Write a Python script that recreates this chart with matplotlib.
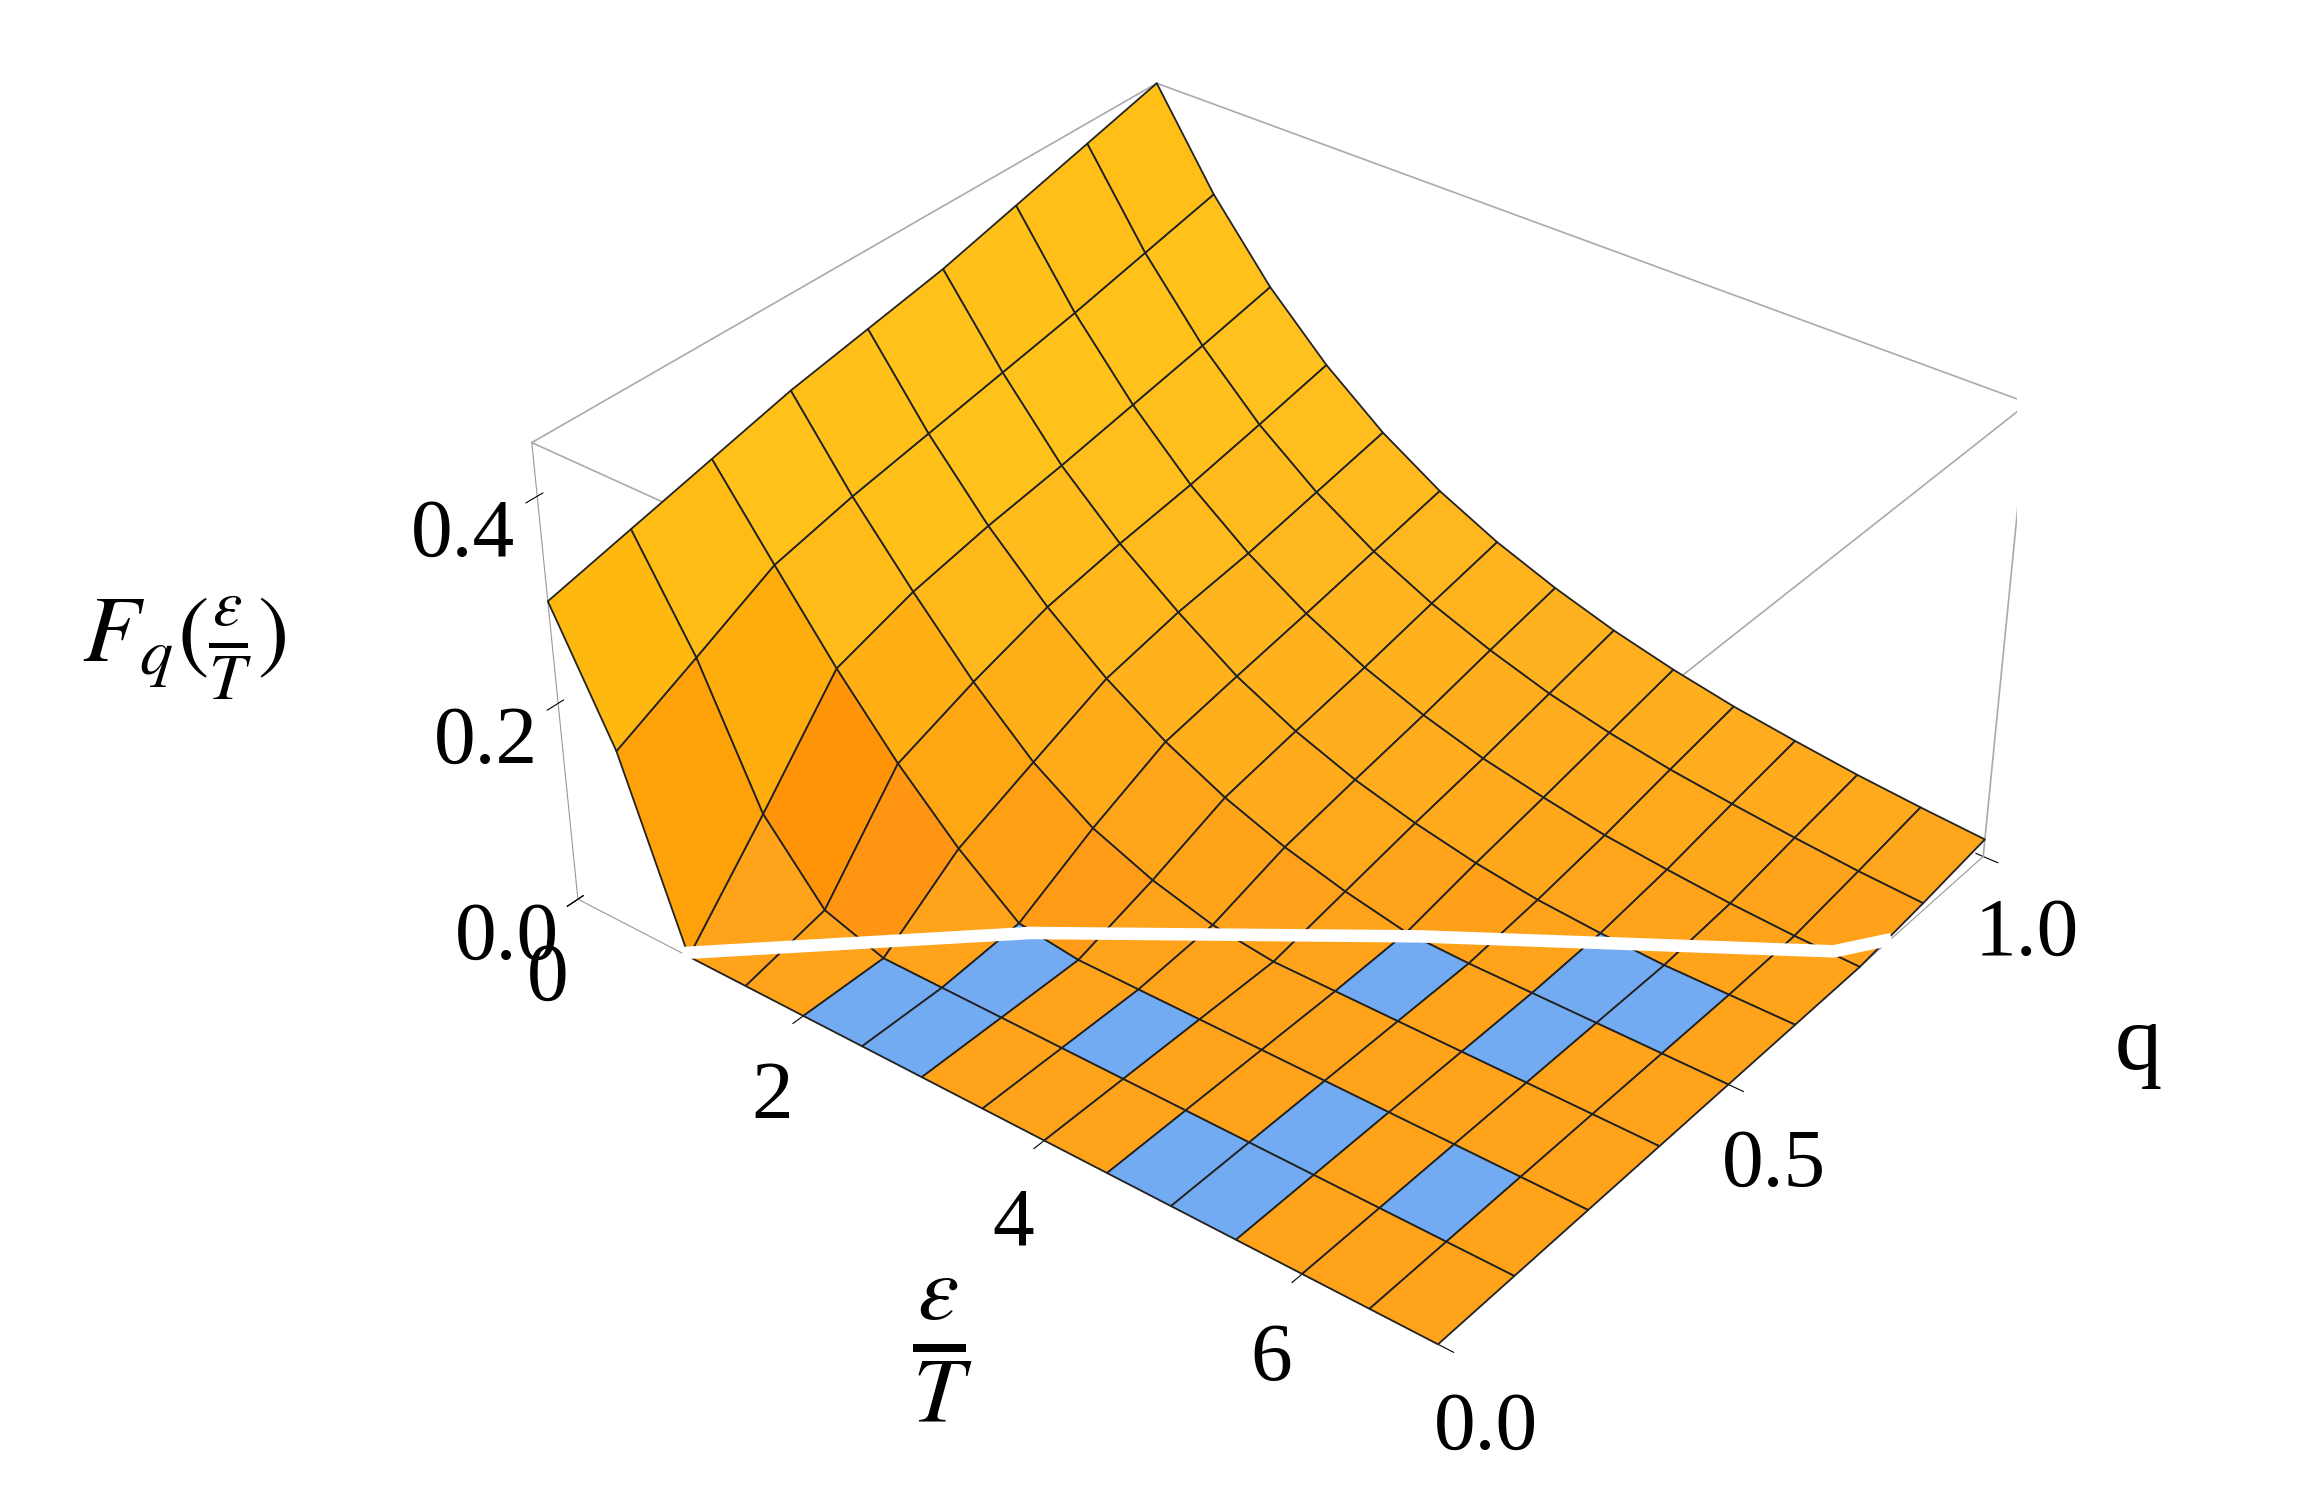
import numpy as np
import matplotlib.pyplot as plt
from matplotlib.colors import LightSource

plt.rcParams['font.family'] = ['Liberation Serif', 'DejaVu Serif']
plt.rcParams['mathtext.fontset'] = 'stix'

# grid
eps = [0, 0.5, 1, 1.5, 2, 2.5, 3, 3.5, 4, 4.5, 5, 5.5, 6, 6.5, 7]
q = [0, 0.125, 0.25, 0.375, 0.5, 0.625, 0.75, 0.875, 1.0]
F = [
    [.30, .18, 0, 0, 0, 0, 0, 0, 0, 0, 0, 0, 0, 0, 0],
    [.32, .22, .09, .02, 0, 0, 0, 0, 0, 0, 0, 0, 0, 0, 0],
    [.34, .261, .184, .115, .056, .008, 0, 0, 0, 0, 0, 0, 0, 0, 0],
    [.36, .28, .21, .145, .09, .05, .025, .008, 0, 0, 0, 0, 0, 0, 0],
    [.375, .295, .227, .170, .123, .085, .055, .032, .015, .002, 0, 0, 0, 0, 0],
    [.39, .31, .24, .185, .14, .10, .07, .047, .030, .017, .008, .003, 0, 0, 0],
    [.41, .325, .255, .197, .151, .114, .084, .061, .043, .030, .019, .012, .006, .002, 0],
    [.43, .342, .27, .212, .166, .129, .10, .077, .058, .044, .033, .025, .018, .012, .008],
    [.45, .359, .286, .228, .181, .144, .115, .092, .073, .058, .046, .037, .029, .023, .018],
]
# white boundary curve where F falls to zero
edge_q = [0.0, 0.125, 0.25, 0.375, 0.5, 0.625, 0.75, 0.8]
edge_eps = [1.0, 1.8, 2.6, 3.6, 4.6, 5.7, 6.8, 7.0]

X, Y = np.meshgrid(eps, q)
Z = np.array(F)

fig = plt.figure(figsize=(22.99, 15.06), dpi=100)
ax = fig.add_axes([0.05, 0.05, 1.0, 1.0], projection='3d')
ax.set_proj_type('persp', focal_length=0.6)
ax.view_init(elev=34, azim=-52)
ax.set_box_aspect((1.5, 1.3, 0.75))

ls = LightSource(azdeg=250, altdeg=45)
t = np.clip(Z / 0.3, 0, 1)
orange = np.array([1.0, 0.64, 0.1])
yellow = np.array([1.0, 0.84, 0.2])
cols = orange + (yellow - orange) * t[..., None] ** 0.5
rgb = ls.shade_rgb(cols, Z * 6, blend_mode='soft', fraction=0.5)
blue = np.array([0.45, 0.67, 0.95])
for i in range(Z.shape[0]):
    for j in range(Z.shape[1]):
        if Z[i, j] < 0.001:
            rgb[i, j] = orange
            if (i * 7 + j * 13 + i * j) % 5 in (0, 2):
                rgb[i, j] = blue
ax.plot_surface(X, Y, Z, facecolors=rgb, edgecolor='#222222', linewidth=1.3,
                shade=False, rstride=1, cstride=1, antialiased=True)

ax.plot(edge_eps, edge_q, [0.004] * len(edge_q), color='white', lw=9, zorder=10)

# bounding box edges
zt = 0.45
for xs, ys, zs in [([0, 7], [1, 1], [zt, zt]), ([7, 7], [0, 1], [zt, zt]),
                   ([0, 7], [0, 0], [zt, zt]), ([0, 0], [0, 1], [zt, zt]),
                   ([7, 7], [0, 0], [0, zt]), ([0, 0], [1, 1], [0, zt]),
                   ([7, 7], [1, 1], [0, zt])]:
    ax.plot(xs, ys, zs, color='#aaaaaa', lw=1.2)

ax.set_xlim(0, 7)
ax.set_ylim(0, 1)
ax.set_zlim(0, zt)
ax.set_xticks([0, 2, 4, 6])
ax.set_yticks([0.0, 0.5, 1.0])
ax.set_yticklabels(['0.0', '0.5', '1.0'])
ax.set_zticks([0.0, 0.2, 0.4])
ax.set_zticklabels(['0.0', '0.2', '0.4'])
ax.tick_params(labelsize=60, pad=20)
ax.zaxis.set_ticks_position('lower')

fig.text(0.41, 0.09, r'$\frac{\epsilon}{T}$', fontsize=95, ha='center')
fig.text(0.93, 0.29, 'q', fontsize=68, ha='center')
fig.text(0.08, 0.56, r'$F_q(\frac{\epsilon}{T})$', fontsize=68, ha='center')

for a in (ax.xaxis, ax.yaxis, ax.zaxis):
    a.set_pane_color((1, 1, 1, 0))
    a.pane.set_edgecolor('#aaaaaa')
    a._axinfo['grid']['color'] = (1, 1, 1, 0)
    a.line.set_color('#999999')
ax.grid(False)

fig.savefig('out.png', dpi=100)
